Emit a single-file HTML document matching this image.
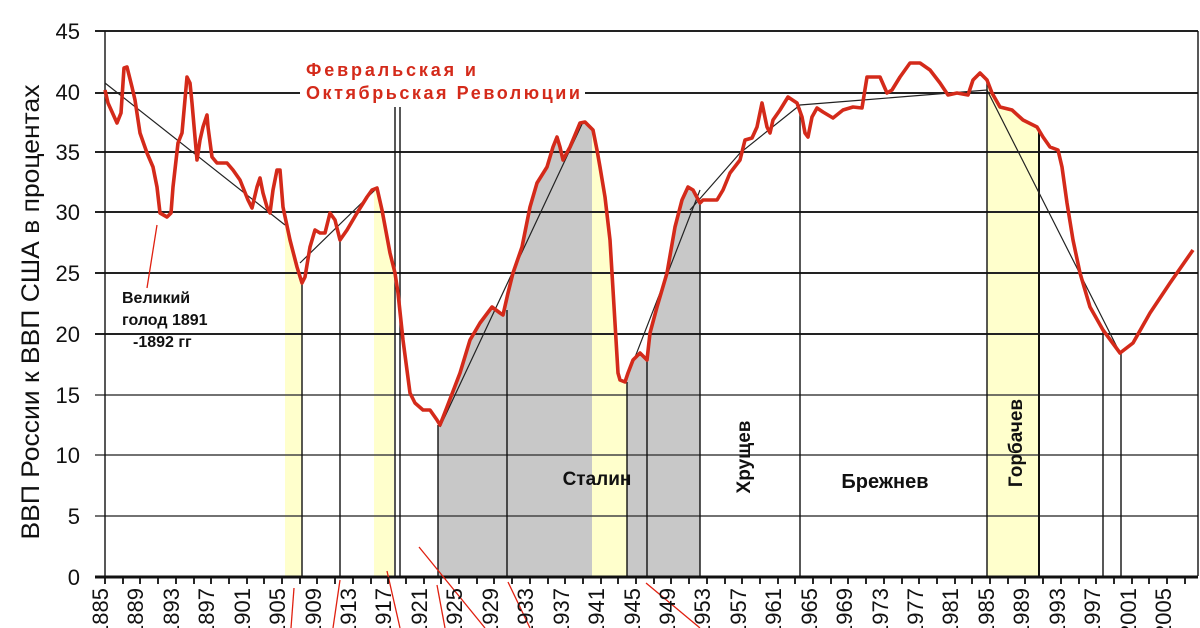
<!DOCTYPE html>
<html><head><meta charset="utf-8"><style>
html,body{margin:0;padding:0;background:#fff;}
svg{display:block;}
text{font-family:"Liberation Sans",sans-serif;}
</style></head><body>
<svg width="1200" height="628" viewBox="0 0 1200 628" xmlns="http://www.w3.org/2000/svg">
<defs>
<clipPath id="under">
<polygon points="105,576 105,90 108,103 117,123 121,113 124,68 127,67 132,87 135,100 140,133 147,153 153,167 157,187 160,213 167,217 171,213 173,187 178,143 182,133 187,77 190,83 192,103 197,160 200,140 203,127 207,115 208,127 212,157 217,163 227,163 233,170 240,180 248,200 252,208 257,187 260,178 263,193 267,207 270,213 273,190 277,170 280,170 283,207 290,240 297,267 302,283 305,277 310,247 315,230 320,233 325,233 330,213 335,220 340,240 347,230 357,213 367,197 372,190 377,188 382,210 390,253 395,273 398,293 403,340 410,393 415,403 423,410 430,410 437,420 440,425 447,407 460,373 470,340 480,323 492,307 500,313 503,315 508,293 513,273 522,247 530,207 537,183 547,167 553,147 557,137 560,147 563,160 570,147 580,123 585,122 593,130 597,150 600,167 605,197 610,240 612,273 615,323 618,373 620,380 625,382 628,373 633,360 640,353 647,360 650,333 657,307 667,273 675,227 682,200 688,187 693,190 700,203 703,200 717,200 723,190 730,173 740,160 745,140 752,138 757,127 762,103 767,127 770,133 773,120 780,110 788,97 797,103 802,117 805,133 808,137 812,117 817,108 823,112 833,118 843,110 853,107 862,108 867,77 880,77 887,93 892,90 900,77 910,63 920,63 930,70 940,83 948,95 957,93 968,95 973,80 980,73 987,80 992,93 1000,107 1012,110 1023,120 1037,127 1043,137 1050,147 1058,150 1062,167 1067,203 1073,240 1080,273 1090,307 1103,330 1120,353 1133,343 1150,313 1170,283 1193,250 1193,576"/>
</clipPath>
</defs>
<g clip-path="url(#under)">
<rect x="438" y="0" width="262" height="576" fill="#c8c8c8"/>
<rect x="285" y="0" width="17" height="576" fill="#ffffcc"/>
<rect x="374" y="0" width="20" height="576" fill="#ffffcc"/>
<rect x="592" y="0" width="35" height="576" fill="#ffffcc"/>
<rect x="987" y="0" width="52" height="576" fill="#ffffcc"/>
</g>
<g stroke="#222" stroke-width="2">
<line x1="95" y1="31" x2="1198" y2="31"/>
<line x1="95" y1="93" x2="300" y2="93"/>
<line x1="585" y1="93" x2="1198" y2="93"/>
<line x1="95" y1="152" x2="1198" y2="152"/>
<line x1="95" y1="212" x2="1198" y2="212"/>
<line x1="95" y1="273" x2="1198" y2="273"/>
<line x1="95" y1="334" x2="1198" y2="334"/>
</g>
<g stroke="#444" stroke-width="1.6">
<line x1="95" y1="395" x2="1198" y2="395"/>
<line x1="95" y1="455" x2="1198" y2="455"/>
<line x1="95" y1="516" x2="1198" y2="516"/>
</g>
<g stroke="#111" stroke-width="1.4">
<line x1="105" y1="31" x2="105" y2="576"/>
<line x1="1198" y1="31" x2="1198" y2="576"/>
<line x1="302" y1="283" x2="302" y2="576"/>
<line x1="340" y1="238" x2="340" y2="576"/>
<line x1="395" y1="107" x2="395" y2="576"/>
<line x1="400" y1="107" x2="400" y2="576"/>
<line x1="438" y1="425" x2="438" y2="576"/>
<line x1="507" y1="310" x2="507" y2="576"/>
<line x1="627" y1="382" x2="627" y2="576"/>
<line x1="647" y1="360" x2="647" y2="576"/>
<line x1="700" y1="203" x2="700" y2="576"/>
<line x1="800" y1="108" x2="800" y2="576"/>
<line x1="987" y1="80" x2="987" y2="576"/>
<line x1="1039" y1="130" x2="1039" y2="576" stroke-width="2"/>
<line x1="1103" y1="330" x2="1103" y2="576"/>
<line x1="1121" y1="353" x2="1121" y2="576"/>
</g>
<line x1="95" y1="577" x2="1198" y2="577" stroke="#111" stroke-width="3"/>
<polyline fill="none" stroke="#222" stroke-width="1.2" points="105,83 285,225"/>
<polyline fill="none" stroke="#222" stroke-width="1.2" points="300,263 375,190"/>
<polyline fill="none" stroke="#222" stroke-width="1.2" points="440,427 583,122"/>
<polyline fill="none" stroke="#222" stroke-width="1.2" points="625,383 700,190"/>
<polyline fill="none" stroke="#222" stroke-width="1.2" points="690,210 740,153 800,105 863,100 987,90 1120,353"/>
<polyline fill="none" stroke="#d42a1a" stroke-width="3.6" stroke-linejoin="round" points="105,90 108,103 117,123 121,113 124,68 127,67 132,87 135,100 140,133 147,153 153,167 157,187 160,213 167,217 171,213 173,187 178,143 182,133 187,77 190,83 192,103 197,160 200,140 203,127 207,115 208,127 212,157 217,163 227,163 233,170 240,180 248,200 252,208 257,187 260,178 263,193 267,207 270,213 273,190 277,170 280,170 283,207 290,240 297,267 302,283 305,277 310,247 315,230 320,233 325,233 330,213 335,220 340,240 347,230 357,213 367,197 372,190 377,188 382,210 390,253 395,273 398,293 403,340 410,393 415,403 423,410 430,410 437,420 440,425 447,407 460,373 470,340 480,323 492,307 500,313 503,315 508,293 513,273 522,247 530,207 537,183 547,167 553,147 557,137 560,147 563,160 570,147 580,123 585,122 593,130 597,150 600,167 605,197 610,240 612,273 615,323 618,373 620,380 625,382 628,373 633,360 640,353 647,360 650,333 657,307 667,273 675,227 682,200 688,187 693,190 700,203 703,200 717,200 723,190 730,173 740,160 745,140 752,138 757,127 762,103 767,127 770,133 773,120 780,110 788,97 797,103 802,117 805,133 808,137 812,117 817,108 823,112 833,118 843,110 853,107 862,108 867,77 880,77 887,93 892,90 900,77 910,63 920,63 930,70 940,83 948,95 957,93 968,95 973,80 980,73 987,80 992,93 1000,107 1012,110 1023,120 1037,127 1043,137 1050,147 1058,150 1062,167 1067,203 1073,240 1080,273 1090,307 1103,330 1120,353 1133,343 1150,313 1170,283 1193,250"/>
<g stroke="#e02010" stroke-width="1.3">
<line x1="157" y1="225" x2="147" y2="288"/>
<line x1="294" y1="588" x2="291" y2="628"/>
<line x1="340" y1="580" x2="333" y2="628"/>
<line x1="387" y1="571" x2="400" y2="628"/>
<line x1="419" y1="547" x2="485" y2="628"/>
<line x1="437" y1="585" x2="445" y2="628"/>
<line x1="508" y1="582" x2="530" y2="628"/>
<line x1="646" y1="583" x2="700" y2="628"/>
</g>
<g font-size="22" fill="#111" text-anchor="end">
<text x="80" y="39">45</text><text x="80" y="100">40</text><text x="80" y="160">35</text>
<text x="80" y="220">30</text><text x="80" y="281">25</text><text x="80" y="342">20</text>
<text x="80" y="403">15</text><text x="80" y="463">10</text><text x="80" y="524">5</text><text x="80" y="585">0</text>
</g>
<text transform="translate(39,312) rotate(-90)" font-size="25" fill="#111" text-anchor="middle" textLength="455" lengthAdjust="spacingAndGlyphs">ВВП России к ВВП США в процентах</text>
<g font-weight="bold" fill="#d42a1a" font-size="18">
<text x="306" y="76" textLength="170" lengthAdjust="spacing">Февральская и</text>
<text x="306" y="99" textLength="274" lengthAdjust="spacing">Октябрьская Революции</text>
</g>
<g font-weight="bold" fill="#111" font-size="16">
<text x="122" y="303">Великий</text>
<text x="122" y="325">голод 1891</text>
<text x="133" y="347">-1892 гг</text>
</g>
<g font-weight="bold" fill="#111" font-size="19">
<text x="597" y="485" text-anchor="middle">Сталин</text>
<text x="885" y="488" text-anchor="middle" font-size="20">Брежнев</text>
<text transform="translate(750,457) rotate(-90)" text-anchor="middle">Хрущев</text>
<text transform="translate(1022,443) rotate(-90)" text-anchor="middle">Горбачев</text>
</g>
<g font-size="22" fill="#111" text-anchor="end">
<text transform="translate(108,588) rotate(-90)">1885</text>
<text transform="translate(143,588) rotate(-90)">1889</text>
<text transform="translate(179,588) rotate(-90)">1893</text>
<text transform="translate(214,588) rotate(-90)">1897</text>
<text transform="translate(250,588) rotate(-90)">1901</text>
<text transform="translate(285,588) rotate(-90)">1905</text>
<text transform="translate(321,588) rotate(-90)">1909</text>
<text transform="translate(356,588) rotate(-90)">1913</text>
<text transform="translate(391,588) rotate(-90)">1917</text>
<text transform="translate(427,588) rotate(-90)">1921</text>
<text transform="translate(462,588) rotate(-90)">1925</text>
<text transform="translate(498,588) rotate(-90)">1929</text>
<text transform="translate(533,588) rotate(-90)">1933</text>
<text transform="translate(569,588) rotate(-90)">1937</text>
<text transform="translate(604,588) rotate(-90)">1941</text>
<text transform="translate(640,588) rotate(-90)">1945</text>
<text transform="translate(675,588) rotate(-90)">1949</text>
<text transform="translate(710,588) rotate(-90)">1953</text>
<text transform="translate(746,588) rotate(-90)">1957</text>
<text transform="translate(781,588) rotate(-90)">1961</text>
<text transform="translate(817,588) rotate(-90)">1965</text>
<text transform="translate(852,588) rotate(-90)">1969</text>
<text transform="translate(888,588) rotate(-90)">1973</text>
<text transform="translate(923,588) rotate(-90)">1977</text>
<text transform="translate(958,588) rotate(-90)">1981</text>
<text transform="translate(994,588) rotate(-90)">1985</text>
<text transform="translate(1029,588) rotate(-90)">1989</text>
<text transform="translate(1065,588) rotate(-90)">1993</text>
<text transform="translate(1100,588) rotate(-90)">1997</text>
<text transform="translate(1136,588) rotate(-90)">2001</text>
<text transform="translate(1171,588) rotate(-90)">2005</text>
</g>
<g stroke="#111" stroke-width="1.8">
<path d="M105 577v7M123 577v7M140 577v7M158 577v7M176 577v7M194 577v7M211 577v7M229 577v7M247 577v7M264 577v7M282 577v7M300 577v7M317 577v7M335 577v7M353 577v7M371 577v7M388 577v7M406 577v7M424 577v7M441 577v7M459 577v7M477 577v7M494 577v7M512 577v7M530 577v7M548 577v7M565 577v7M583 577v7M601 577v7M618 577v7M636 577v7M654 577v7M671 577v7M689 577v7M707 577v7M725 577v7M742 577v7M760 577v7M778 577v7M795 577v7M813 577v7M831 577v7M848 577v7M866 577v7M884 577v7M902 577v7M919 577v7M937 577v7M955 577v7M972 577v7M990 577v7M1008 577v7M1025 577v7M1043 577v7M1061 577v7M1079 577v7M1096 577v7M1114 577v7M1132 577v7M1149 577v7M1167 577v7M1185 577v7"/>
</g>
</svg>
</body></html>
